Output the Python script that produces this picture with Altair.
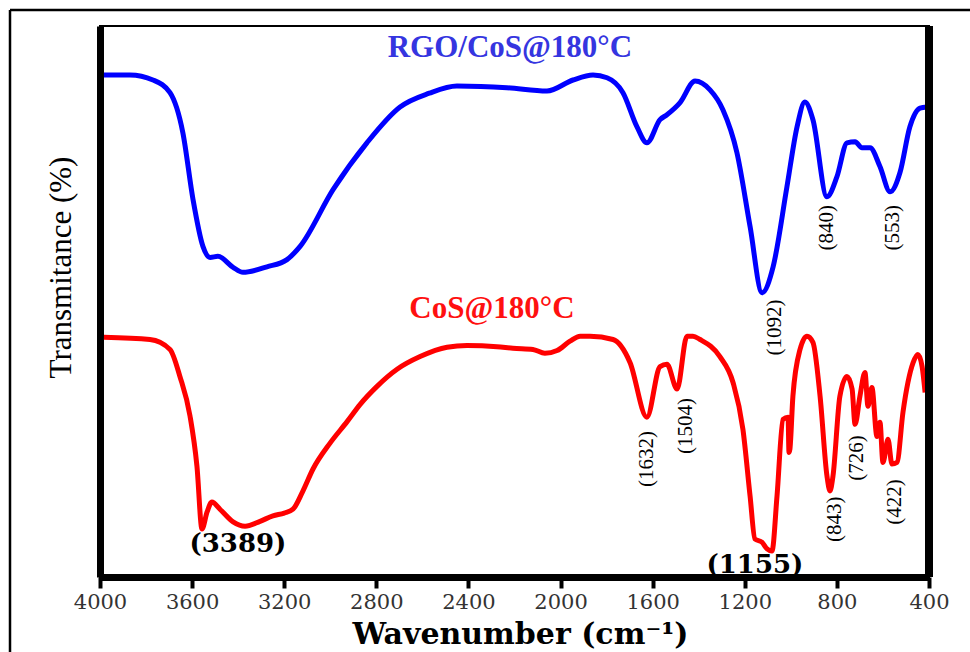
import altair as alt
import pandas as pd

# ---- data (wavenumber cm-1, transmittance a.u.) ----
rgo_wn = [3983, 3870, 3770, 3696, 3640, 3596, 3553, 3522, 3488, 3422, 3379, 3275, 3188, 3131,
          2988, 2841, 2697, 2570, 2450, 2233, 2059, 1946, 1859, 1798, 1729, 1668, 1625, 1568,
          1538, 1481, 1416, 1351, 1295, 1234, 1177, 1125, 1077, 1017, 973, 939, 904, 843,
          800, 756, 721, 691, 656, 613, 569, 526, 483, 439, 409]
rgo_t = [91.1, 91.1, 90.2, 87.9, 80.6, 68.5, 60.0, 58.0, 58.2, 56.2, 55.3, 56.3, 57.6, 60.0,
         70.3, 78.8, 85.3, 87.8, 89.1, 88.8, 88.2, 90.2, 91.1, 90.6, 87.9, 81.7, 78.8, 83.0,
         83.9, 86.1, 90.0, 88.4, 84.8, 77.0, 63.6, 51.6, 56.3, 70.8, 81.7, 86.2, 83.0, 69.0,
         72.6, 78.8, 79.0, 77.9, 77.9, 74.5, 69.9, 73.4, 81.7, 85.1, 85.3]

cos_wn = [3983, 3783, 3696, 3653, 3609, 3579, 3557, 3535, 3514, 3479, 3422, 3370, 3305, 3249,
          3200, 3162, 3120, 3075, 3001, 2927, 2871, 2797, 2710, 2610, 2493, 2406, 2276, 2207,
          2120, 2068, 2015, 1959, 1915, 1872, 1772, 1698, 1625, 1568, 1538, 1494, 1451, 1425,
          1394, 1308, 1251, 1208, 1177, 1156, 1125, 1103, 1082, 1060, 1034, 1012, 1008, 1004,
          991, 960, 930, 904, 873, 843, 830, 817, 787, 756, 734, 721, 700, 678, 665, 648, 626,
          613, 600, 578, 561, 539, 513, 469, 448, 430, 417]
cos_t = [43.5, 43.1, 41.3, 36.4, 29.2, 20.1, 8.7, 11.8, 13.6, 12.3, 10.0, 9.2, 10.1, 11.1,
         11.6, 12.3, 15.5, 19.6, 24.3, 28.2, 31.3, 34.6, 37.7, 40.0, 41.7, 42.0, 41.8, 41.5,
         41.3, 40.6, 41.1, 42.8, 43.7, 43.7, 43.1, 38.9, 29.0, 38.2, 38.6, 34.1, 43.7, 43.7,
         43.1, 40.0, 35.3, 26.8, 14.7, 6.9, 6.3, 5.1, 4.7, 14.7, 28.6, 29.0, 22.6, 23.2,
         32.8, 41.3, 43.7, 42.6, 32.8, 18.3, 15.6, 18.3, 32.8, 36.4, 34.1, 27.7, 32.8, 37.1,
         31.0, 34.4, 25.5, 28.1, 20.8, 25.0, 20.5, 20.8, 29.9, 38.9, 40.4, 38.2, 33.5]

# rotated peak labels
vpeak_text = ["(1092)", "(840)", "(553)", "(1632)", "(1504)", "(843)", "(726)", "(422)"]
vpeak_wn = [1069, 843, 556, 1625, 1455, 808, 713, 548]
vpeak_t = [45.3, 63.4, 63.4, 21.4, 27.4, 10.5, 21.6, 13.6]

# horizontal bold peak labels
hpeak_text = ["(3389)", "(1155)"]
hpeak_wn = [3401, 1156]
hpeak_t = [6.0, 2.2]

series_names = ["RGO/CoS@180°C", "CoS@180°C"]
series_colors = ["#3535e0", "#ff1010"]
series_wn = [2220, 2298]
series_t = [96.0, 48.6]

x_ticks = [4000, 3600, 3200, 2800, 2400, 2000, 1600, 1200, 800, 400]

# ---- tables ----
rgo = pd.DataFrame({"wn": rgo_wn, "t": rgo_t})
cos = pd.DataFrame({"wn": cos_wn, "t": cos_t})
vlab = pd.DataFrame({"wn": vpeak_wn, "t": vpeak_t, "txt": vpeak_text})
hlab = pd.DataFrame({"wn": hpeak_wn, "t": hpeak_t, "txt": hpeak_text})
slab = pd.DataFrame({"wn": series_wn, "t": series_t, "txt": series_names, "col": series_colors})

xscale = alt.Scale(domain=[4000, 400], nice=False, zero=False)
yscale = alt.Scale(domain=[0, 100], nice=False, zero=False)

xaxis = alt.Axis(values=x_ticks, format="d", title="Wavenumber (cm⁻¹)",
                 grid=False, domainColor="black", domainWidth=7,
                 tickColor="black", tickWidth=4, tickSize=11,
                 labelFont="DejaVu Serif", labelFontSize=21, labelColor="#333333",
                 labelPadding=3, labelFlush=False,
                 titleFont="DejaVu Serif", titleFontSize=30, titleFontWeight="bold",
                 titleColor="black", titleX=420, titleY=66, titleBaseline="alphabetic",
                 titleAlign="center")
yaxis = alt.Axis(title="Transmitance (%)", labels=False, ticks=False, grid=False,
                 domainColor="black", domainWidth=7,
                 titleFont="Liberation Serif", titleFontSize=31, titleFontWeight="normal",
                 titleColor="black", titleX=-30, titleY=241, titleAngle=-90,
                 titleBaseline="alphabetic", titleAlign="center")

base_x = alt.X("wn:Q", scale=xscale, axis=xaxis)
base_y = alt.Y("t:Q", scale=yscale, axis=yaxis)

blue = alt.Chart(rgo).mark_line(color="#0000ff", strokeWidth=5, interpolate="monotone").encode(
    x=base_x, y=base_y)
red = alt.Chart(cos).mark_line(color="#ff0000", strokeWidth=5, interpolate="monotone").encode(
    x="wn:Q", y="t:Q")

vtext = alt.Chart(vlab).mark_text(angle=270, font="Liberation Serif", fontSize=21,
                                  color="black", align="center", baseline="middle").encode(
    x="wn:Q", y="t:Q", text="txt:N")
htext = alt.Chart(hlab).mark_text(font="DejaVu Serif", fontSize=26, fontWeight="bold",
                                  color="black", align="center", baseline="middle").encode(
    x="wn:Q", y="t:Q", text="txt:N")
stext = alt.Chart(slab).mark_text(font="Liberation Serif", fontSize=31, fontWeight="bold",
                                  align="center", baseline="middle").encode(
    x="wn:Q", y="t:Q", text="txt:N", color=alt.Color("col:N", scale=None))

right_edge = alt.Chart(pd.DataFrame({"wn": [400]})).mark_rule(
    color="black", strokeWidth=8).encode(x="wn:Q")

frame_top = alt.Chart(pd.DataFrame({"a": [0]})).mark_rule(color="black", strokeWidth=2.5).encode(
    x=alt.value(-90), x2=alt.value(1000), y=alt.value(-16))
frame_left = alt.Chart(pd.DataFrame({"a": [0]})).mark_rule(color="black", strokeWidth=2.5).encode(
    x=alt.value(-90), y=alt.value(-16), y2=alt.value(700))

chart = alt.layer(blue, red, vtext, htext, stext, right_edge, frame_top, frame_left).properties(
    width=829, height=551,
    padding={"left": 100, "top": 26, "right": 41, "bottom": 75},
    autosize=alt.AutoSizeParams(type="none"),
    background="white",
).configure_view(stroke="black", strokeWidth=2)

chart.save("out.html", embed_options={"renderer": "svg", "actions": False})
